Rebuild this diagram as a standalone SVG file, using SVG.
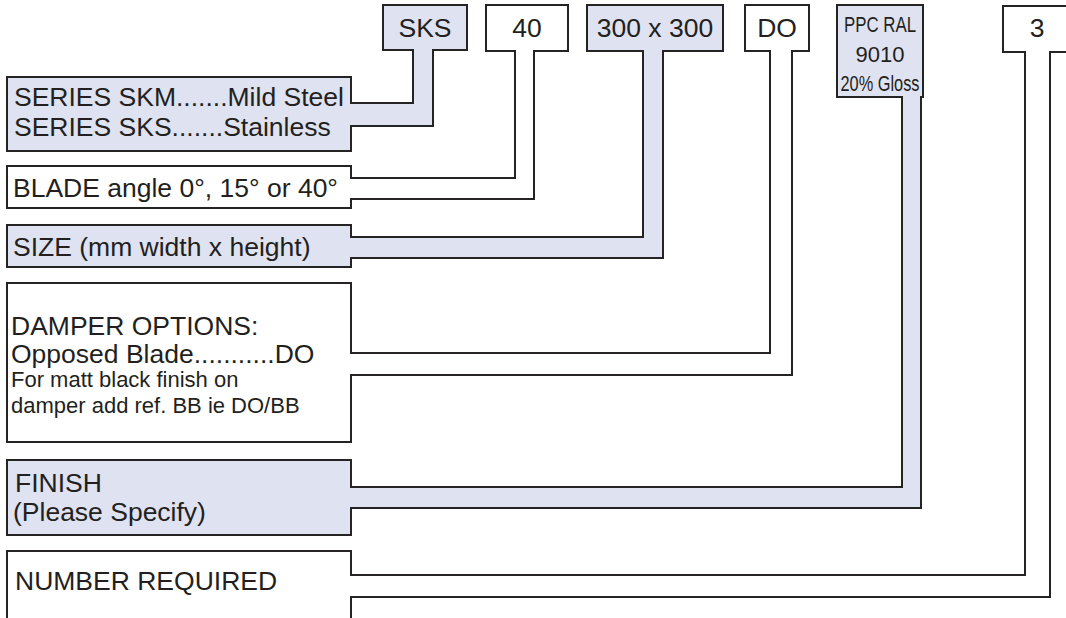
<svg xmlns="http://www.w3.org/2000/svg" width="1066" height="618" viewBox="0 0 1066 618">
<style>
.blue{fill:#dfe2f0;stroke:#262324;stroke-width:2}
.white{fill:#ffffff;stroke:#262324;stroke-width:2}
.fb{fill:#dfe2f0;stroke:none}
.fw{fill:#ffffff;stroke:none}
.ln{fill:none;stroke:#262324;stroke-width:2;stroke-linecap:square;stroke-linejoin:miter}
text{font-family:"Liberation Sans",Arial,Helvetica,sans-serif;fill:#231f20}
.t{font-size:26.5px}
.c{text-anchor:middle}
.s{font-size:22px}
.p{font-size:22px}
</style>
<rect width="1066" height="618" fill="#ffffff"/>
<g id="node-sks"><rect class="blue" x="383" y="5" width="84" height="45"/><text class="t c" x="425" y="37">SKS</text></g>
<g id="node-40"><rect class="white" x="486" y="5" width="82" height="46"/><text class="t c" x="527" y="37">40</text></g>
<g id="node-300"><rect class="blue" x="587" y="5" width="136" height="46"/><text class="t c" x="655" y="37">300 x 300</text></g>
<g id="node-do"><rect class="white" x="745" y="5" width="64" height="46"/><text class="t c" x="777" y="37">DO</text></g>
<g id="node-ppc"><rect class="blue" x="837" y="5" width="86" height="92"/><text class="p c" x="880" y="32" textLength="72" lengthAdjust="spacingAndGlyphs">PPC RAL</text><text class="p c" x="880" y="62" textLength="49" lengthAdjust="spacingAndGlyphs">9010</text><text class="p c" x="880" y="91" textLength="79" lengthAdjust="spacingAndGlyphs">20% Gloss</text></g>
<g id="node-3"><rect class="white" x="1003" y="6" width="70" height="46"/><text class="t c" x="1037" y="37">3</text></g>
<g id="node-series"><rect class="blue" x="7" y="77" width="344" height="74"/><text class="t" x="14" y="106" xml:space="preserve">SERIES SKM.......Mild Steel</text><text class="t" x="14" y="136" xml:space="preserve">SERIES SKS.......Stainless</text></g>
<g id="node-blade"><rect class="white" x="7" y="166" width="344" height="42"/><text class="t" x="13" y="197">BLADE angle 0°, 15° or 40°</text></g>
<g id="node-size"><rect class="blue" x="7" y="225" width="344" height="42"/><text class="t" x="13" y="256">SIZE (mm width x height)</text></g>
<g id="node-damper"><rect class="white" x="7" y="283" width="344" height="159"/><text class="t" x="11" y="335">DAMPER OPTIONS:</text><text class="t" x="11" y="363">Opposed Blade...........DO</text><text class="s" x="11" y="387">For matt black finish on</text><text class="s" x="11" y="413">damper add ref. BB ie DO/BB</text></g>
<g id="node-finish"><rect class="blue" x="7" y="460" width="344" height="75"/><text class="t" x="15" y="492">FINISH</text><text class="t" x="13" y="521">(Please Specify)</text></g>
<g id="node-number"><rect class="white" x="7" y="551" width="344" height="90"/><text class="t" x="15" y="590">NUMBER REQUIRED</text></g>
<g id="connectors">
<path class="fb" d="M413,47 H433 V126 H348 V103 H413 Z"/>
<path class="ln" d="M413,50 V103 H351 M433,50 V126 H351"/>
<path class="fw" d="M515,48 H534 V199 H348 V178 H515 Z"/>
<path class="ln" d="M515,51 V178 H351 M534,51 V199 H351"/>
<path class="fb" d="M643,48 H663 V258 H348 V237 H643 Z"/>
<path class="ln" d="M643,51 V237 H351 M663,51 V258 H351"/>
<path class="fw" d="M770,48 H792 V375 H348 V353 H770 Z"/>
<path class="ln" d="M770,51 V353 H351 M792,51 V375 H351"/>
<path class="fb" d="M902,94 H921 V508 H348 V487 H902 Z"/>
<path class="ln" d="M902,97 V487 H351 M921,97 V508 H351"/>
<path class="fw" d="M1025,49 H1050 V597 H348 V575 H1025 Z"/>
<path class="ln" d="M1025,52 V575 H351 M1050,52 V597 H351"/>
</g>
</svg>
